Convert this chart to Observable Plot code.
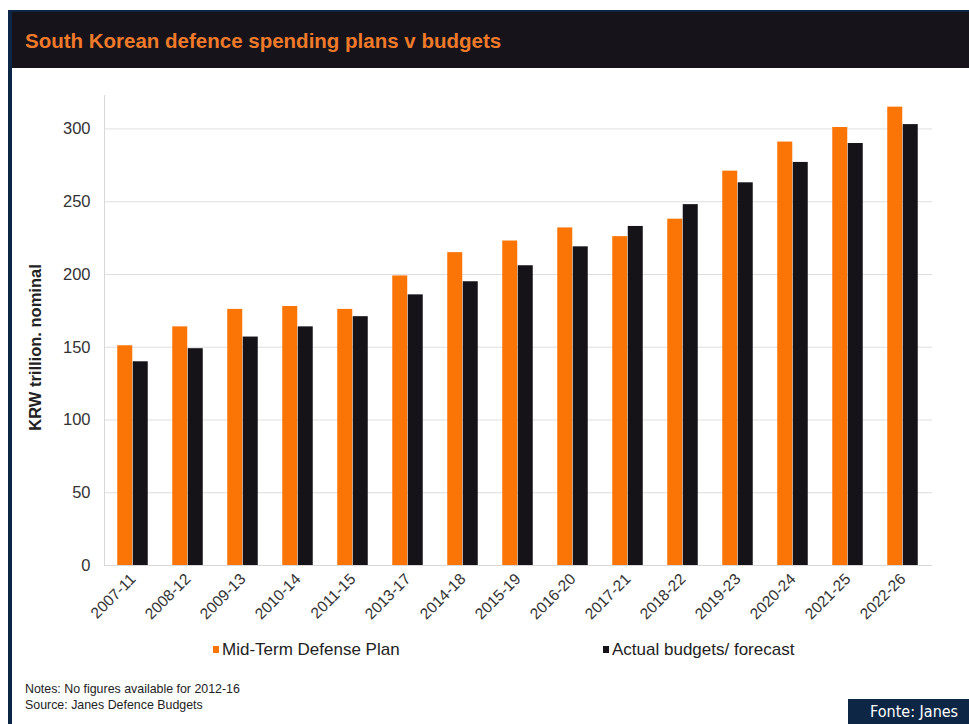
<!DOCTYPE html>
<html><head><meta charset="utf-8">
<script src="https://cdn.jsdelivr.net/npm/d3@7"></script>
<script src="https://cdn.jsdelivr.net/npm/@observablehq/plot@0.6"></script>
<style>
body{margin:0;width:969px;height:724px;overflow:hidden;background:#fff;font-family:Arial,"Liberation Sans",sans-serif;position:relative}
#frame{position:absolute;left:8px;top:10px;width:961px;height:714px;border-left:4px solid #0e2645;border-top:2px solid #0e2645;box-sizing:border-box}
#header{position:absolute;left:12px;top:12px;width:957px;height:56px;background:#16131a}
#title{position:absolute;left:25px;top:29px;font-weight:bold;font-size:20.5px;color:#ef7a2a;white-space:nowrap}
#chart{position:absolute;left:0;top:70px}
.leg{position:absolute;top:640px;font-size:17px;color:#222;white-space:nowrap}
.sw{display:inline-block;width:6px;height:7px;margin-right:3px;vertical-align:2px}
.note{position:absolute;left:25px;font-size:12.4px;color:#222;white-space:nowrap}
#fonte{position:absolute;left:848px;top:699px;width:121px;height:25px;background:#0e2645;color:#fff;font-family:"Liberation Sans Narrow","DejaVu Sans Condensed",Arial,sans-serif;font-size:16px;line-height:25px;text-indent:22px}
</style></head>
<body>
<div id="frame"></div>
<div id="header"></div>
<div id="title">South Korean defence spending plans v budgets</div>
<div id="chart"></div>
<div id="legend"></div>
<div class="note" style="top:682px">Notes: No figures available for 2012-16</div>
<div class="note" style="top:698px">Source: Janes Defence Budgets</div>
<div id="fonte">Fonte: Janes</div>
<script>
const categories = ["2007-11","2008-12","2009-13","2010-14","2011-15","2013-17","2014-18","2015-19","2016-20","2017-21","2018-22","2019-23","2020-24","2021-25","2022-26"];
const plan   = [151,164,176,178,176,199,215,223,232,226,238,271,291,301,315];
const actual = [140,149,157,164,171,186,195,206,219,233,248,263,277,290,303];
const seriesNames = ["Mid-Term Defense Plan","Actual budgets/ forecast"];
const seriesColors = ["#fb7406","#151318"];
const yTicks = [0,50,100,150,200,250,300];
const yLabel = "KRW trillion. nominal";

const planData = categories.map((c,i)=>({cat:c, value:plan[i]}));
const actualData = categories.map((c,i)=>({cat:c, value:actual[i]}));

const chart = Plot.plot({
  width:969, height:570,
  marginLeft:104, marginRight:37, marginTop:25, marginBottom:75,
  style:{fontFamily:"Arial, 'Liberation Sans', sans-serif", background:"transparent"},
  x:{domain:categories, paddingInner:0.719, paddingOuter:0.36, label:null},
  y:{domain:[0,323], label:null},
  marks:[
    Plot.gridY(yTicks,{stroke:"#dedede", strokeOpacity:1}),
    Plot.frame({anchor:"left", stroke:"#d8d8d8"}),
    Plot.ruleY([0],{stroke:"#d8d8d8"}),
    Plot.barY(planData,{x:"cat", y:"value", fill:seriesColors[0], dx:-7.75}),
    Plot.barY(actualData,{x:"cat", y:"value", fill:seriesColors[1], dx:7.75}),
    Plot.axisY(yTicks,{tickSize:0, tickPadding:14, fontSize:16.5, fill:"#333", label:null}),
    Plot.axisX({tickRotate:-45, tickSize:0, tickPadding:11, fontSize:15.5, fill:"#333", label:null}),
    Plot.text([yLabel],{frameAnchor:"left", textAnchor:"middle", rotate:-90, dx:-69, dy:17, fontWeight:"bold", fontSize:16.5, fill:"#222"})
  ]
});
document.getElementById("chart").appendChild(chart);

const legend = document.getElementById("legend");
const legPos = [213, 603];
seriesNames.forEach((n,i)=>{
  const d = document.createElement("div");
  d.className = "leg";
  d.style.left = legPos[i]+"px";
  d.innerHTML = `<span class="sw" style="background:${seriesColors[i]}"></span>${n}`;
  legend.appendChild(d);
});
</script>
</body></html>
